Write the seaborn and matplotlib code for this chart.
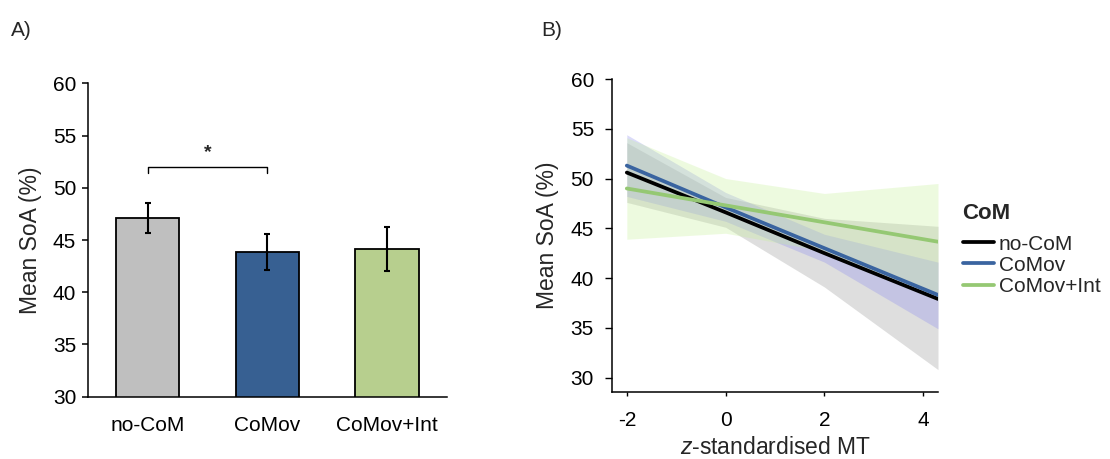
import matplotlib
matplotlib.use("Agg")
import matplotlib.pyplot as plt
import seaborn as sns
import pandas as pd
import numpy as np

# ---------------- data ----------------
categories = ["no-CoM", "CoMov", "CoMov+Int"]
bar_means = [47.1, 43.87, 44.13]
bar_errors = [1.45, 1.7, 2.1]
bar_colors = ["#bfbfbf", "#376092", "#b7cf8e"]

mt_x = [-2.0, 0.0, 2.0, 4.3]
line_nocom = [50.6, 46.6, 42.5, 37.9]
line_comov = [51.3, 47.1, 43.0, 38.3]
line_comovint = [49.0, 47.3, 45.6, 43.65]

lo_nocom = [47.6, 45.1, 39.1, 30.8]
hi_nocom = [53.6, 48.1, 46.0, 45.2]
lo_comov = [48.2, 45.7, 41.6, 34.9]
hi_comov = [54.4, 48.6, 44.4, 41.6]
lo_comovint = [43.9, 44.5, 42.7, 37.8]
hi_comovint = [54.1, 50.0, 48.5, 49.5]

line_colors = ["#000000", "#3a64a0", "#95c873"]
ribbon_colors = ["#9a9a9a", "#8f8fee", "#c6f198"]
ribbon_alpha = [0.32, 0.32, 0.30]

yticks = [30, 35, 40, 45, 50, 55, 60]
xticks_b = [-2, 0, 2, 4]

# ---------------- style ----------------
sns.set_theme(style="white")
plt.rcParams["font.family"] = ["Liberation Sans", "DejaVu Sans"]
plt.rcParams["mathtext.fontset"] = "custom"
plt.rcParams["mathtext.it"] = "Liberation Sans:italic"
plt.rcParams["mathtext.rm"] = "Liberation Sans"
plt.rcParams["axes.edgecolor"] = "black"
plt.rcParams["axes.linewidth"] = 1.1

W, H = 1110, 459
fig = plt.figure(figsize=(W / 100, H / 100), dpi=100)

# ---------------- panel A ----------------
axA = fig.add_axes([88 / W, (H - 396.7) / H, (446.7 - 88) / W, (396.7 - 83.3) / H])
dfA = pd.DataFrame({"cond": categories, "soa": bar_means})
sns.barplot(data=dfA, x="cond", y="soa", hue="cond", palette=bar_colors,
            order=categories, hue_order=categories, width=0.53, saturation=1,
            edgecolor="black", linewidth=1.3, errorbar=None, legend=False, ax=axA)
axA.errorbar(np.arange(len(categories)), bar_means, yerr=bar_errors, fmt="none",
             ecolor="black", elinewidth=1.5, capsize=2.5, capthick=1.5, zorder=5)
axA.set_ylim(30, 60)
axA.set_xlim(-0.5, 2.5)
axA.set_yticks(yticks)
axA.set_xlabel("")
axA.set_ylabel("Mean SoA (%)", fontsize=16.5, labelpad=8)
for s in ["top", "right"]:
    axA.spines[s].set_visible(False)
axA.tick_params(axis="y", left=True, length=4.5, width=1.1, pad=4, labelsize=15, colors="black")
axA.tick_params(axis="x", bottom=False, length=0, pad=14, labelsize=15, colors="black")
# significance bracket
axA.plot([0, 0, 1, 1], [51.4, 52.0, 52.0, 51.4], color="black", lw=1.0, clip_on=False)
axA.text(0.5, 53.4, "*", ha="center", va="center", fontsize=14, fontweight="bold")

# ---------------- panel B ----------------
axB = fig.add_axes([612 / W, (H - 392) / H, (938 - 612) / W, (392 - 79) / H])
groups = ["no-CoM", "CoMov", "CoMov+Int"]
los = [lo_nocom, lo_comov, lo_comovint]
his = [hi_nocom, hi_comov, hi_comovint]
for g, lo, hi, c, a in zip(groups, los, his, ribbon_colors, ribbon_alpha):
    axB.fill_between(mt_x, lo, hi, color=c, alpha=a, linewidth=0, zorder=1)

dfB = pd.DataFrame({
    "MT": mt_x * 3,
    "SoA": line_nocom + line_comov + line_comovint,
    "CoM": sum([[g] * len(mt_x) for g in groups], []),
})
sns.lineplot(data=dfB, x="MT", y="SoA", hue="CoM", hue_order=groups,
             palette=line_colors, linewidth=2.7, errorbar=None, ax=axB, zorder=3)
axB.set_xlim(-2.3, 4.3)
axB.set_ylim(28.55, 60)
axB.set_yticks(yticks)
axB.set_xticks(xticks_b)
axB.set_xticklabels(["-2", "0", "2", "4"])
axB.set_xlabel("$z$-standardised MT", fontsize=16.5, labelpad=4)
axB.set_ylabel("Mean SoA (%)", fontsize=16.5, labelpad=8)
for s in ["top", "right"]:
    axB.spines[s].set_visible(False)
axB.tick_params(axis="both", length=5, width=1.0, labelsize=15, colors="black")
axB.tick_params(axis="y", left=True, pad=8)
axB.tick_params(axis="x", bottom=True, length=3, pad=11)

handles, labels = axB.get_legend_handles_labels()
leg = axB.legend(handles, labels, title="CoM", frameon=False,
                 loc="upper left", bbox_to_anchor=(948 / W, (H - 188) / H),
                 bbox_transform=fig.transFigure, fontsize=15,
                 title_fontproperties={"weight": "bold", "size": 16},
                 handlelength=1.5, handletextpad=0.25, labelspacing=0.1,
                 borderpad=0.2)
leg._legend_box.align = "left"
leg._legend_box.sep = 8
for lh in leg.get_lines():
    lh.set_linewidth(2.7)

# panel letters
fig.text(11 / W, (H - 31) / H, "A)", fontsize=15, va="center", ha="left")
fig.text(541 / W, (H - 31) / H, "B)", fontsize=15, va="center", ha="left")

fig.savefig("out.png", dpi=100)
